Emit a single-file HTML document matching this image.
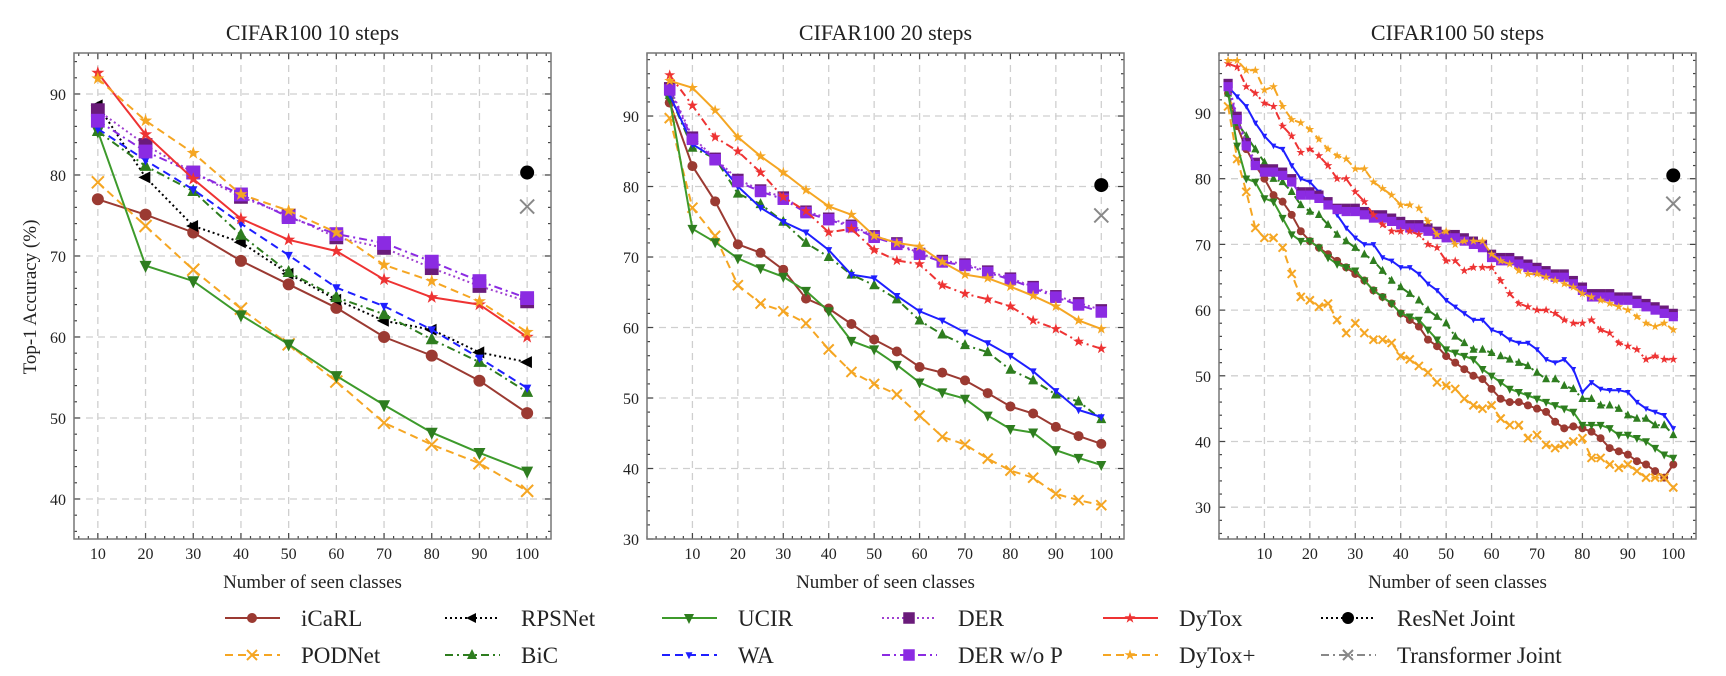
<!DOCTYPE html>
<html><head><meta charset="utf-8"><style>
html,body{margin:0;padding:0;background:#fff;}
svg{display:block;font-family:"Liberation Serif",serif;}
</style></head><body>
<svg id="chart" width="1726" height="676" viewBox="0 0 1726 676" xmlns="http://www.w3.org/2000/svg"></svg>
<script>
// ---------- data ----------
const seriesNames = ["iCaRL","PODNet","RPSNet","BiC","UCIR","WA","DER","DER w/o P","DyTox","DyTox+"];
const x10 = [10,20,30,40,50,60,70,80,90,100];
const p1_iCaRL = [77.0,75.1,72.9,69.4,66.5,63.6,60.0,57.7,54.6,50.6];
const p1_PODNet = [79.1,73.7,68.3,63.5,59.1,54.5,49.4,46.7,44.4,41.0];
const p1_RPSNet = [88.6,79.7,73.7,71.7,67.8,64.6,62.0,60.9,58.1,56.9];
const p1_BiC = [85.4,81.1,78.0,72.6,68.0,64.9,62.8,59.7,56.9,53.2];
const p1_UCIR = [85.4,68.8,66.9,62.7,59.1,55.2,51.6,48.2,45.7,43.4];
const p1_WA = [85.7,81.8,78.2,74.0,70.1,66.1,63.8,60.9,57.4,53.7];
const p1_DER = [88.0,83.7,80.3,77.3,75.0,72.3,71.0,68.5,66.3,64.4];
const p1_DERwoP = [86.7,82.9,80.3,77.6,74.8,72.7,71.6,69.3,66.9,64.8];
const p1_DyTox = [92.6,85.0,79.5,74.6,72.0,70.6,67.1,64.9,64.0,60.0];
const p1_DyToxPlus = [91.9,86.7,82.7,77.6,75.6,72.9,68.9,66.9,64.4,60.6];
const p1_joint = [80.3,76.1];

const x20 = [5,10,15,20,25,30,35,40,45,50,55,60,65,70,75,80,85,90,95,100];
const p2_iCaRL = [91.9,82.9,77.9,71.8,70.6,68.2,64.1,62.7,60.5,58.3,56.6,54.4,53.6,52.5,50.7,48.8,47.8,45.9,44.6,43.5];
const p2_PODNet = [89.7,77.0,73.0,66.0,63.4,62.3,60.6,56.9,53.7,52.0,50.5,47.5,44.5,43.4,41.4,39.7,38.7,36.4,35.5,34.8];
const p2_BiC = [93,85.5,84,79,77.5,75,72,70,67.5,66,64,61,59,57.5,56.5,54,52.5,50.5,49.5,47];
const p2_UCIR = [92.4,74.0,72.1,69.8,68.4,67.2,65.2,62.3,58.1,56.9,54.7,52.2,50.8,49.9,47.5,45.6,45.1,42.6,41.5,40.5];
const p2_WA = [93,86,84,80,77,75,73.5,71,67.5,67,64.5,62.3,61,59.3,57.8,56,53.8,51,48.3,47.3];
const p2_DER = [94,87,84,81,79.5,78.5,76.5,75.5,74.5,73,72,70.5,69.5,69,68,67,65.8,64.5,63.5,62.5];
const p2_DERwoP = [93.7,86.7,83.8,80.7,79.3,78.2,76.3,75.3,74.3,72.8,71.8,70.4,69.3,68.8,67.8,66.8,65.6,64.3,63.2,62.2];
const p2_DyTox = [95.8,91.5,87,85,82,78.5,76.5,73.5,74,71,69.5,69,66,64.8,64,63,61,59.8,58,57];
const p2_DyToxPlus = [95,94,90.8,87,84.3,82,79.5,77.2,76,73,72,71.5,69.3,67.5,67,65.8,64.5,63,61,59.8];
const p2_joint = [80.2,75.9];

const x50 = [2,4,6,8,10,12,14,16,18,20,22,24,26,28,30,32,34,36,38,40,42,44,46,48,50,52,54,56,58,60,62,64,66,68,70,72,74,76,78,80,82,84,86,88,90,92,94,96,98,100];
const p3_iCaRL = [93,88,84.5,82,80, 77.5,76.5,74.5,72,70.5, 69.5,68.5,67.5,66.5,65.5, 64.5,63,62,61,59.5, 58.5,57.5,55.5,54.5,53, 52,51,50,49.5,48, 46.5,46,46,45.5,45, 44.5,43,42,42.3,42, 41.5,40.5,39,38.5,38, 37,36.5,35.5,34.5,36.5];
const p3_PODNet = [91,83,78,72.5,71, 71,69.5,65.5,62,61.5, 60.5,61,58.5,56.5,58, 56.5,55.5,55.5,55,53, 52.5,51.5,50.5,49,48.5, 48,46.5,45.5,45,45.5, 43.5,42.5,42.5,40.5,41, 39.5,39,39.5,40,40.5, 37.5,37.5,36.5,36,36.5, 35.5,34.5,34.5,34.5,33];
const p3_UCIR = [93,85,80,79.5,77, 76.5,74,71.5,70.5,70.5, 69.5,68,67,66.5,66, 64.5,63,62,61,59.5, 59,58.5,57,55.5,54, 53.5,53,52.5,51,50, 49,48,47.5,47,46.5, 46,45.5,45,44.5,42.5, 42.5,42.5,42,41,41, 40.5,40,39,38,37.5];
const p3_BiC = [93,88.5,86.5,84.5,82.5, 80,79.5,78,76,75, 74.5,73,71.5,70.5,69.5, 68.5,67.5,66,64.5,63.5, 62.5,61.5,60,59,58, 56,55,54,54,53.5, 53,52.5,52,51.5,50.5, 49.5,49.5,48.5,48,46.5, 46.5,45.5,45.5,45,44, 43.5,43.5,42.5,42.5,41];
const p3_WA = [94,92.5,91,88.5,86.5, 85,84.5,82,80,79.5, 78,76.5,74.5,72.5,71, 70,70,68,67.5,66.5, 66.5,65.5,64,63,61.5, 60.5,59.5,58.5,58.5,57, 56.5,55.5,55,55,54, 52.5,52,52.5,51,47.5, 49,48,47.8,47.8,47.5, 46,45,44.5,44,42];
const p3_DER = [94.5,89.5,85.5,82.5,81.5, 81.5,81,80,78,78, 77.5,76.5,75.5,75.5,75.5, 75,74.5,74.5,74,73.5, 73,73,72.5,72,71.5, 71.5,71,70.5,70,68.5, 68,68,67.5,67,66.5, 66,65.5,65.5,64.5,63.5, 62.5,62.5,62.5,62,62, 61.5,61,60.5,60,59.5];
const p3_DERwoP = [94,89,85,82,81, 81,80.5,79.5,77.5,77.5, 77,76,75.3,75,75, 74.5,74,74,73.5,73, 72.5,72.5,72,71.5,71, 71,70.5,70,69.5,68, 67.5,67.5,67,66.5,66, 65.5,65,65,64,63, 62,62,62,61.5,61.5, 61,60.5,60,59.5,59];
const p3_DyTox = [97.5,97,94,93,91.5, 91,88,86.5,84,84.5, 83.5,82,80,80,78, 76.5,74.5,73,72,72, 72,71.5,70,69.5,67.5, 67.5,66,66.5,66.5,66.5, 64.5,62.5,61,60.5,60, 60,59.5,58.5,58,58, 58.5,57,56.5,55,54.5, 54,52.5,53,52.5,52.5];
const p3_DyToxPlus = [98,98,96.5,96.5,93.5, 94,91,89,88.5,87.5, 86,84.5,83.5,83,81.5, 81.5,79.5,78.5,77.5,76, 76,75.5,73.5,71.5,72, 70,70.5,70.5,70.5,68.5, 67.5,67,66,65.5,65.5, 65,64.5,64,63.5,62.5, 62,61.5,61,60.5,60, 59,58,57.5,58,57];
const p3_joint = [80.5,76.2];

const xTicks = [10,20,30,40,50,60,70,80,90,100];
const yTicks1 = [40,50,60,70,80,90];
const yTicks23 = [30,40,50,60,70,80,90];
const panelTitles = ["CIFAR100 10 steps","CIFAR100 20 steps","CIFAR100 50 steps"];

// ---------- styles ----------
const STY = {
 "iCaRL":{c:"#9b3a32",mc:"#9b3a32",d:"",m:"circle"},
 "PODNet":{c:"#f5a623",mc:"#f5a623",d:"8,5",m:"x"},
 "RPSNet":{c:"#000",mc:"#000",d:"2,3",m:"tleft"},
 "BiC":{c:"#2e7d1f",mc:"#2e7d1f",d:"8,4,2,4",m:"tup"},
 "UCIR":{c:"#3d9a2b",mc:"#2e7d1f",d:"",m:"tdown"},
 "WA":{c:"#1f1fff",mc:"#1f1fff",d:"8,5",m:"tdownS"},
 "DER":{c:"#a040d0",mc:"#6a1b7a",d:"2,3",m:"square"},
 "DER w/o P":{c:"#8b2be2",mc:"#8b2be2",d:"8,4,2,4",m:"square"},
 "DyTox":{c:"#ee3333",mc:"#ee3333",d:"",m:"star"},
 "DyTox+":{c:"#f5a623",mc:"#f5a623",d:"8,5",m:"star"}
};
const DASH_OVERRIDE = [
 {},
 {"WA":"","DyTox+":"","DyTox":"8,4,2,4"},
 {"WA":"","DyTox":"8,4,2,4"}
];

const NS="http://www.w3.org/2000/svg";
const svg=document.getElementById("chart");
function mk(tag,attrs,parent){const e=document.createElementNS(NS,tag);for(const k in attrs)e.setAttribute(k,attrs[k]);(parent||svg).appendChild(e);return e;}

function marker(g,type,x,y,r,col){
 let e;
 if(type==="circle"){e=mk("circle",{cx:x,cy:y,r:r,fill:col},g);}
 else if(type==="square"){const q=r*1.15;e=mk("rect",{x:x-q,y:y-q,width:2*q,height:2*q,fill:col},g);}
 else if(type==="x"){e=mk("path",{d:`M${x-r} ${y-r}L${x+r} ${y+r}M${x-r} ${y+r}L${x+r} ${y-r}`,stroke:col,"stroke-width":2,fill:"none"},g);}
 else if(type==="tup"){e=mk("path",{d:`M${x} ${y-r*1.2}L${x+r} ${y+r*0.8}L${x-r} ${y+r*0.8}Z`,fill:col},g);}
 else if(type==="tdown"){e=mk("path",{d:`M${x} ${y+r*1.2}L${x+r} ${y-r*0.8}L${x-r} ${y-r*0.8}Z`,fill:col},g);}
 else if(type==="tdownS"){const s=r*0.7;e=mk("path",{d:`M${x} ${y+s*1.2}L${x+s} ${y-s*0.8}L${x-s} ${y-s*0.8}Z`,fill:col},g);}
 else if(type==="tleft"){e=mk("path",{d:`M${x-r*1.2} ${y}L${x+r*0.8} ${y-r}L${x+r*0.8} ${y+r}Z`,fill:col},g);}
 else if(type==="star"){let p="";for(let i=0;i<10;i++){const a=-Math.PI/2+i*Math.PI/5;const rr=i%2?r*0.45:r*1.15;p+=(i?"L":"M")+(x+rr*Math.cos(a)).toFixed(1)+" "+(y+rr*Math.sin(a)).toFixed(1);}e=mk("path",{d:p+"Z",fill:col},g);}
 return e;
}

const panels=[
 {box:[74,53,551,539],xd:[5,105],yd:[35.06,95.06],yt:yTicks1,xs:x10,mr:6,data:{"iCaRL":p1_iCaRL,"PODNet":p1_PODNet,"RPSNet":p1_RPSNet,"BiC":p1_BiC,"UCIR":p1_UCIR,"WA":p1_WA,"DER":p1_DER,"DER w/o P":p1_DERwoP,"DyTox":p1_DyTox,"DyTox+":p1_DyToxPlus},joint:p1_joint},
 {box:[647,53,1124,539],xd:[0,105],yd:[30,98.94],yt:yTicks23,xs:x20,mr:5,data:{"iCaRL":p2_iCaRL,"PODNet":p2_PODNet,"BiC":p2_BiC,"UCIR":p2_UCIR,"WA":p2_WA,"DER":p2_DER,"DER w/o P":p2_DERwoP,"DyTox":p2_DyTox,"DyTox+":p2_DyToxPlus},joint:p2_joint},
 {box:[1219,53,1696,539],xd:[0,105],yd:[25.16,99.13],yt:yTicks23,xs:x50,mr:4,data:{"iCaRL":p3_iCaRL,"PODNet":p3_PODNet,"BiC":p3_BiC,"UCIR":p3_UCIR,"WA":p3_WA,"DER":p3_DER,"DER w/o P":p3_DERwoP,"DyTox":p3_DyTox,"DyTox+":p3_DyToxPlus},joint:p3_joint}
];

panels.forEach((P,pi)=>{
 const [L,T,R,B]=P.box;
 const sx=v=>L+(v-P.xd[0])/(P.xd[1]-P.xd[0])*(R-L);
 const sy=v=>B-(v-P.yd[0])/(P.yd[1]-P.yd[0])*(B-T);
 const g=mk("g",{});
 
 
 const t=mk("text",{x:(L+R)/2,y:40,"text-anchor":"middle","font-size":22,fill:"#222"},g);
 t.textContent=panelTitles[pi];
 
 
 xTicks.forEach(v=>{const l=mk("line",{x1:sx(v),x2:sx(v),y1:T,y2:B,stroke:"#cfcfcf","stroke-dasharray":"7,5","stroke-width":1.3},g);
  });
 P.yt.forEach(v=>{const l=mk("line",{x1:L,x2:R,y1:sy(v),y2:sy(v),stroke:"#cfcfcf","stroke-dasharray":"7,5","stroke-width":1.3},g);
  });
 for(let v=Math.ceil(P.xd[0]/2)*2;v<=P.xd[1];v+=2){const X=sx(v);const maj=v%10===0&&v>=10&&v<=100;const len=maj?6:3;
  mk("line",{x1:X,x2:X,y1:B,y2:B-len,stroke:"#444","stroke-width":1.2},g);mk("line",{x1:X,x2:X,y1:T,y2:T+len,stroke:"#444","stroke-width":1.2},g);}
 for(let v=Math.ceil(P.yd[0]/2)*2;v<=P.yd[1];v+=2){const Y=sy(v);const maj=v%10===0;const len=maj?6:3;
  mk("line",{x1:L,x2:L+len,y1:Y,y2:Y,stroke:"#444","stroke-width":1.2},g);mk("line",{x1:R,x2:R-len,y1:Y,y2:Y,stroke:"#444","stroke-width":1.2},g);}
 const fr=mk("rect",{x:L,y:T,width:R-L,height:B-T,fill:"none",stroke:"#777","stroke-width":1.5},g);
 
 xTicks.forEach(v=>{const e=mk("text",{x:sx(v),y:559,"text-anchor":"middle","font-size":16,fill:"#222"},g);e.textContent=v;
  });
 P.yt.forEach(v=>{const e=mk("text",{x:L-8,y:sy(v)+6,"text-anchor":"end","font-size":16,fill:"#222"},g);e.textContent=v;
  });
 const xl=mk("text",{x:(L+R)/2,y:588,"text-anchor":"middle","font-size":19,fill:"#222"},g);xl.textContent="Number of seen classes";
 
 if(pi===0){const yl=mk("text",{x:0,y:0,"text-anchor":"middle","font-size":19,fill:"#222",transform:"translate(36,297) rotate(-90)"},g);yl.textContent="Top-1 Accuracy (%)";
  }
 seriesNames.forEach(name=>{
  const vals=P.data[name]; if(!vals) return; const s=STY[name];
  const dash = (name in DASH_OVERRIDE[pi]) ? DASH_OVERRIDE[pi][name] : s.d;
  const sg=mk("g",{},g);
  
  
  let d="";vals.forEach((v,i)=>{d+=(i?"L":"M")+sx(P.xs[i]).toFixed(1)+" "+sy(v).toFixed(1);});
  const pl=mk("path",{d:d,fill:"none",stroke:s.c,"stroke-width":2,"stroke-dasharray":dash},sg);
  
  vals.forEach((v,i)=>{const m=marker(sg,s.m,sx(P.xs[i]),sy(v),P.mr,s.mc);
   });
 });
 const rj=marker(g,"circle",sx(100),sy(P.joint[0]),7,"#000");
 
 const tj=marker(g,"x",sx(100),sy(P.joint[1]),7,"#888");
 
});

// ---------- legend ----------
const legendItems=[
 ["iCaRL",0,0],["RPSNet",1,0],["UCIR",2,0],["DER",3,0],["DyTox",4,0],["ResNet Joint",5,0],
 ["PODNet",0,1],["BiC",1,1],["WA",2,1],["DER w/o P",3,1],["DyTox+",4,1],["Transformer Joint",5,1]
];
const colX=[225,445,662,882,1103,1321];
const rowY=[618,655];
const lg=mk("g",{});


legendItems.forEach(([name,c,r])=>{
 const g=mk("g",{},lg);
 
 
 const x0=colX[c],y=rowY[r];
 let s=STY[name];
 if(name==="ResNet Joint") s={c:"#000",mc:"#000",d:"2,3",m:"circle"};
 if(name==="Transformer Joint") s={c:"#888",mc:"#888",d:"8,4,2,4",m:"x"};
 mk("line",{x1:x0,x2:x0+55,y1:y,y2:y,stroke:s.c,"stroke-width":2,"stroke-dasharray":s.d},g);
 marker(g,s.m,x0+27,y,name==="ResNet Joint"?6:5,s.mc);
 const t=mk("text",{x:x0+76,y:y+8,"font-size":23,fill:"#222"},g);t.textContent=name;
});
</script>
</body></html>
